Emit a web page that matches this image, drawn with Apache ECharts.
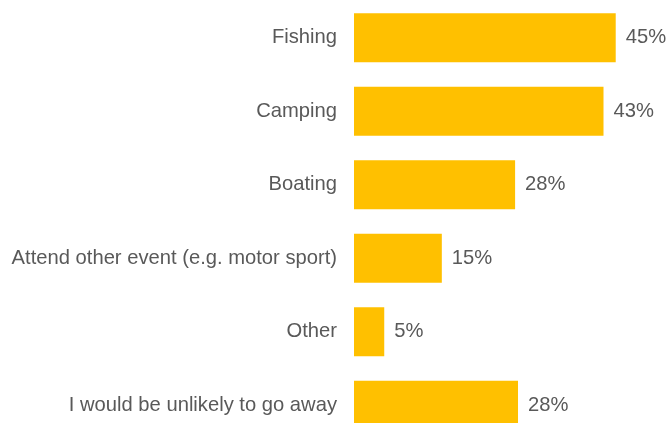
<!DOCTYPE html>
<html>
<head>
<meta charset="utf-8">
<style>
  html, body { margin: 0; padding: 0; background: #ffffff; }
  #chart { width: 667px; height: 423px; }
</style>
<script src="https://cdn.jsdelivr.net/npm/echarts@6/dist/echarts.min.js"></script>
</head>
<body>
<div id="chart"></div>
<script>
const categories = [
  "Fishing",
  "Camping",
  "Boating",
  "Attend other event (e.g. motor sport)",
  "Other",
  "I would be unlikely to go away"
];
const values = [45.0, 42.9, 27.7, 15.1, 5.2, 28.2];

const chart = echarts.init(document.getElementById('chart'), null, { renderer: 'canvas' });
chart.setOption({
  animation: false,
  backgroundColor: '#ffffff',
  grid: { left: 354, top: 1, width: 290.8, height: 441, containLabel: false, outerBoundsMode: 'none' },
  xAxis: {
    type: 'value', min: 0, max: 50, show: false,
    splitLine: { show: false }
  },
  yAxis: {
    type: 'category', data: categories, inverse: true,
    axisLine: { show: false }, axisTick: { show: false },
    axisLabel: {
      margin: 17, fontSize: 20.2, color: '#595959',
      fontFamily: '"Liberation Sans", Arial, sans-serif'
    }
  },
  series: [{
    type: 'bar',
    data: values,
    barWidth: 49,
    itemStyle: { color: '#FFC000' },
    label: {
      show: true, position: 'right', distance: 10,
      fontSize: 20.2, color: '#595959',
      fontFamily: '"Liberation Sans", Arial, sans-serif',
      formatter: p => Math.round(p.value) + '%'
    }
  }]
});
</script>
</body>
</html>
